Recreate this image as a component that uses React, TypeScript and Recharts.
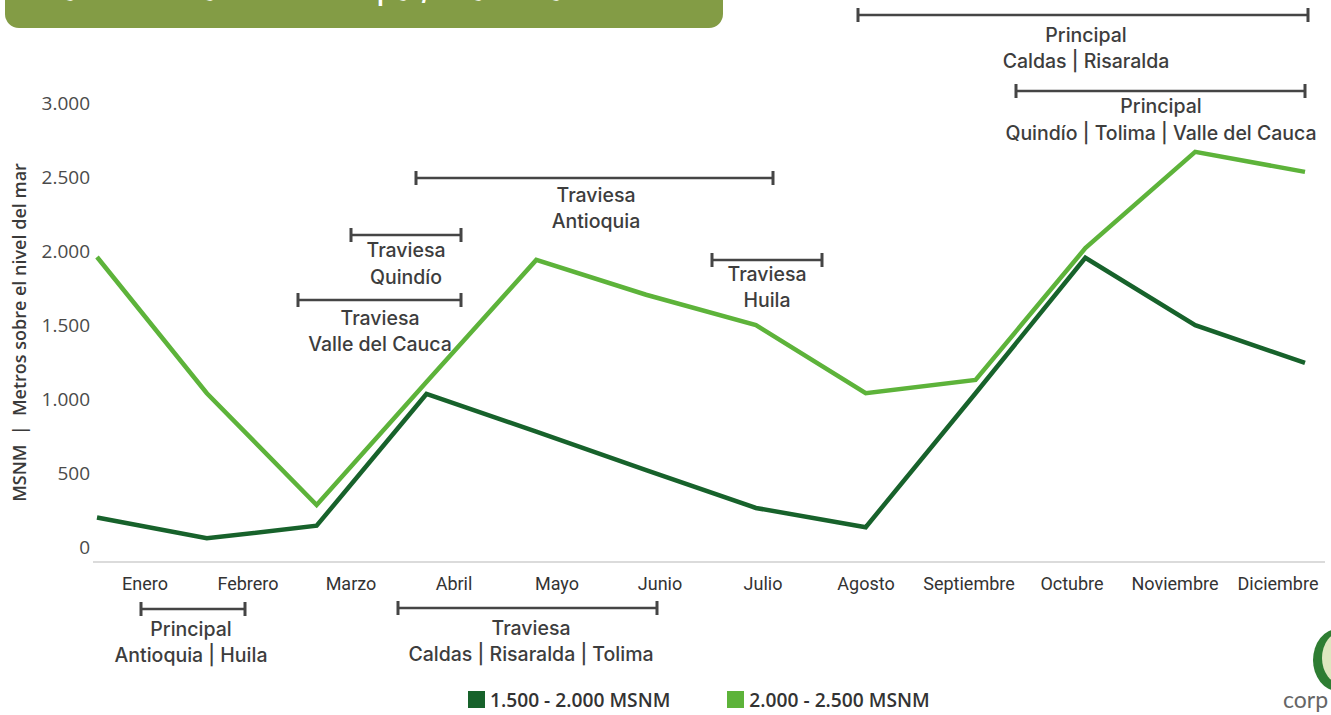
import { LineChart, Line, XAxis, YAxis, Legend } from 'recharts'

const months = ['Enero', 'Febrero', 'Marzo', 'Abril', 'Mayo', 'Junio', 'Julio', 'Agosto', 'Septiembre', 'Octubre', 'Noviembre', 'Diciembre']
const serieBaja = [200, 60, 145, 1035, 780, 520, 265, 135, 1040, 1955, 1500, 1245]
const serieAlta = [1960, 1040, 285, 1115, 1940, 1705, 1500, 1040, 1130, 2020, 2670, 2535]
const yTicks = [0, 500, 1000, 1500, 2000, 2500, 3000]
const seriesNames = ['1.500 - 2.000 MSNM', '2.000 - 2.500 MSNM']

const DARK = '#17622b'
const LIGHT = '#5db33a'
const TEXT = '#3d3d3d'

const data = months.map((m, i) => ({ month: m, baja: serieBaja[i], alta: serieAlta[i] }))

// bracket annotations drawn over the chart (layout only)
const notes = [
  { x1: 858, x2: 1308, y: 15, cx: 1086, lines: ['Principal', 'Caldas | Risaralda'], ty: [35, 61] },
  { x1: 1016, x2: 1305, y: 91, cx: 1161, lines: ['Principal', 'Quindío | Tolima | Valle del Cauca'], ty: [106, 133] },
  { x1: 416, x2: 773, y: 178, cx: 596, lines: ['Traviesa', 'Antioquia'], ty: [195, 221] },
  { x1: 351, x2: 461, y: 235, cx: 406, lines: ['Traviesa', 'Quindío'], ty: [250, 277] },
  { x1: 298, x2: 461, y: 300, cx: 380, lines: ['Traviesa', 'Valle del Cauca'], ty: [318, 344] },
  { x1: 712, x2: 822, y: 260, cx: 767, lines: ['Traviesa', 'Huila'], ty: [274, 300] },
  { x1: 141, x2: 245, y: 609, cx: 191, lines: ['Principal', 'Antioquia | Huila'], ty: [629, 655] },
  { x1: 398, x2: 657, y: 608, cx: 531, lines: ['Traviesa', 'Caldas | Risaralda | Tolima'], ty: [628, 654] },
]

function fmtTick(v: number): string {
  if (v >= 1000) return `${Math.floor(v / 1000)}.${String(v % 1000).padStart(3, '0')}`
  return String(v)
}

function LegendContent({ payload }: any) {
  return (
    <div style={{ display: 'flex', gap: 57, alignItems: 'center' }}>
      {(payload || []).map((p: any) => (
        <div key={p.value} style={{ display: 'flex', alignItems: 'center', gap: 5 }}>
          <span style={{ width: 17, height: 17, background: p.color, display: 'inline-block' }} />
          <span style={{ fontFamily: '"Open Sans", sans-serif', fontWeight: 600, fontSize: 19.2, color: '#333' }}>{p.value}</span>
        </div>
      ))}
    </div>
  )
}

export default function App() {
  return (
    <div style={{ position: 'absolute', left: 0, top: 0, width: 1331, height: 715, overflow: 'hidden', background: '#fff' }}>
      <div
        style={{
          position: 'absolute', left: 5, top: -32, width: 718, height: 60, borderRadius: 14, background: '#839c45',
          color: '#fff', fontFamily: 'Inter, sans-serif', fontSize: 31, fontWeight: 500, lineHeight: '31px',
        }}
      >
        <div style={{ position: 'absolute', left: 35, top: 5 }}>Harvest Season: Principal/ Traviesa Blooms</div>
      </div>

      <LineChart width={1331} height={715} data={data} margin={{ top: 103, right: 6, left: 8, bottom: 123 }}>
        <XAxis xAxisId="d" dataKey="month" hide height={0} padding={{ left: 4, right: 20 }} />
        <XAxis
          xAxisId="l"
          dataKey="month"
          interval={0}
          padding={{ left: 52, right: 47 }}
          height={30}
          tickLine={false}
          tickSize={0}
          tickMargin={15}
          axisLine={{ stroke: '#cfcfcf', strokeWidth: 1.5 }}
          tick={{ fontFamily: 'Roboto, sans-serif', fontSize: 18, fill: '#333' }}
        />
        <YAxis
          domain={[-100, 3000]}
          ticks={yTicks}
          tickFormatter={fmtTick}
          width={85}
          axisLine={false}
          tickLine={false}
          tickSize={0}
          tickMargin={3}
          tick={{ fontFamily: '"Open Sans", sans-serif', fontSize: 19, fill: '#4a4a4a' }}
          label={{
            value: 'MSNM\u00a0\u00a0|\u00a0\u00a0Metros sobre el nivel del mar',
            angle: -90,
            position: 'insideLeft',
            offset: 12,
            style: { textAnchor: 'middle', fontFamily: '"Open Sans", sans-serif', fontWeight: 600, fontSize: 18, fill: '#3a3a3a' },
          }}
        />
        <Legend
          layout="horizontal"
          verticalAlign="middle"
          align="center"
          wrapperStyle={{ left: 468, top: 686, width: 520 }}
          content={<LegendContent />}
        />
        <Line xAxisId="d" type="linear" dataKey="baja" name={seriesNames[0]} stroke={DARK} strokeWidth={4.5} dot={false} activeDot={false} isAnimationActive={false} />
        <Line xAxisId="d" type="linear" dataKey="alta" name={seriesNames[1]} stroke={LIGHT} strokeWidth={4.5} dot={false} activeDot={false} isAnimationActive={false} />
      </LineChart>

      <svg width={1331} height={715} style={{ position: 'absolute', left: 0, top: 0, pointerEvents: 'none' }}>
        {notes.map((n, i) => (
          <g key={i}>
            <line x1={n.x1} x2={n.x2} y1={n.y} y2={n.y} stroke="#454545" strokeWidth={2.5} />
            <line x1={n.x1} x2={n.x1} y1={n.y - 7} y2={n.y + 7} stroke="#454545" strokeWidth={3} />
            <line x1={n.x2} x2={n.x2} y1={n.y - 7} y2={n.y + 7} stroke="#454545" strokeWidth={3} />
            {n.lines.map((t, j) => (
              <text key={j} x={n.cx} y={n.ty[j]} textAnchor="middle" dominantBaseline="central"
                fontFamily="Inter, sans-serif" fontSize={19.5} fontWeight={500} fill={TEXT}>{t}</text>
            ))}
          </g>
        ))}
        <ellipse cx={1338} cy={660} rx={25} ry={31} fill="#2e7d32" />
        <ellipse cx={1342} cy={658} rx={20} ry={26} fill="#dfe7bf" />
        <ellipse cx={1343} cy={662} rx={11} ry={14} fill="#8c9a70" />
        <text x={1283} y={708} fontFamily="Lato, sans-serif" fontSize={23} fill="#666">corp</text>
      </svg>
    </div>
  )
}
